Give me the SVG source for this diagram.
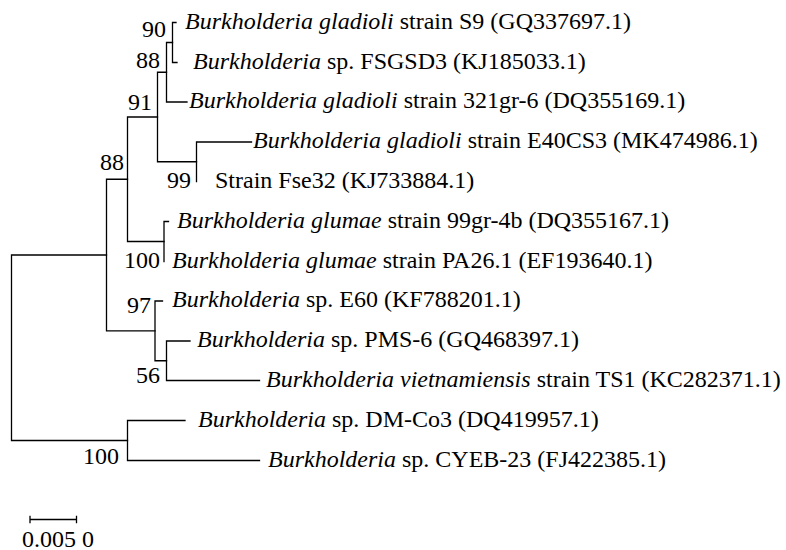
<svg xmlns="http://www.w3.org/2000/svg" width="786" height="550" viewBox="0 0 786 550">
<style>
.e{fill:none;stroke:#000;stroke-width:1.3;stroke-linecap:square}
.t{font-family:"Liberation Serif","Times New Roman",serif;font-size:24px;fill:#000}
.i{font-style:italic}
.b{font-family:"Liberation Serif","Times New Roman",serif;font-size:24px;fill:#000;text-anchor:end}
</style>
<rect width="786" height="550" fill="#fff"/>
<g id="connectors">
<path class="e" d="M172.5 22.5V62.5M172.5 22.5H176M172.5 62.5H177"/>
<path class="e" d="M166.5 42.5V102M166.5 42.5H172.5M166.5 102H187"/>
<path class="e" d="M196.5 142V181.5M196.5 142H251.5"/>
<path class="e" d="M157.5 72.25V161.75M157.5 72.25H166.5M157.5 161.75H196.5"/>
<path class="e" d="M164 221.5V261.5M164 221.5H168.5"/>
<path class="e" d="M127.5 117V241.5M127.5 117H157.5M127.5 241.5H164"/>
<path class="e" d="M166.5 341V380.5M166.5 341H190M166.5 380.5H259.5"/>
<path class="e" d="M155 301V360.75M155 301H162.5M155 360.75H166.5"/>
<path class="e" d="M106.5 179.25V330.9M106.5 179.25H127.5M106.5 330.9H155"/>
<path class="e" d="M127.5 420.5V460.5M127.5 420.5H185M127.5 460.5H259.5"/>
<path class="e" d="M11.5 255V440.5M11.5 255H106.5M11.5 440.5H127.5"/>
</g>
<g id="leaf-S9"><text class="t" x="185" y="28.5"><tspan class="i">Burkholderia gladioli</tspan> strain S9 (GQ337697.1)</text></g>
<g id="leaf-FSGSD3"><text class="t" x="193" y="68.5"><tspan class="i">Burkholderia</tspan> sp. FSGSD3 (KJ185033.1)</text></g>
<g id="leaf-321gr-6"><text class="t" x="189" y="108"><tspan class="i">Burkholderia gladioli</tspan> strain 321gr-6 (DQ355169.1)</text></g>
<g id="leaf-E40CS3"><text class="t" x="253" y="148"><tspan class="i">Burkholderia gladioli</tspan> strain E40CS3 (MK474986.1)</text></g>
<g id="leaf-Fse32"><text class="t" x="215" y="187.5">Strain Fse32 (KJ733884.1)</text></g>
<g id="leaf-99gr-4b"><text class="t" x="177" y="227.5"><tspan class="i">Burkholderia glumae</tspan> strain 99gr-4b (DQ355167.1)</text></g>
<g id="leaf-PA26.1"><text class="t" x="172" y="267.5"><tspan class="i">Burkholderia glumae</tspan> strain PA26.1 (EF193640.1)</text></g>
<g id="leaf-E60"><text class="t" x="172" y="307"><tspan class="i">Burkholderia</tspan> sp. E60 (KF788201.1)</text></g>
<g id="leaf-PMS-6"><text class="t" x="197" y="347"><tspan class="i">Burkholderia</tspan> sp. PMS-6 (GQ468397.1)</text></g>
<g id="leaf-TS1"><text class="t" x="266" y="386.5"><tspan class="i">Burkholderia vietnamiensis</tspan> strain TS1 (KC282371.1)</text></g>
<g id="leaf-DM-Co3"><text class="t" x="198" y="426.5"><tspan class="i">Burkholderia</tspan> sp. DM-Co3 (DQ419957.1)</text></g>
<g id="leaf-CYEB-23"><text class="t" x="268" y="466.5"><tspan class="i">Burkholderia</tspan> sp. CYEB-23 (FJ422385.1)</text></g>
<g id="node-A"><text class="b" x="166" y="37">90</text></g>
<g id="node-B"><text class="b" x="160" y="68">88</text></g>
<g id="node-C"><text class="b" x="152" y="110">91</text></g>
<g id="node-D"><text class="b" x="191" y="188">99</text></g>
<g id="node-E"><text class="b" x="124" y="170">88</text></g>
<g id="node-F"><text class="b" x="160" y="268">100</text></g>
<g id="node-G"><text class="b" x="151" y="313">97</text></g>
<g id="node-H"><text class="b" x="160" y="383">56</text></g>
<g id="node-I"><text class="b" x="119" y="463.5">100</text></g>
<g id="scale-bar">
<path class="e" d="M30 519.5H76.5M30 516.5V522.5M76.5 516.5V522.5"/>
<text class="t" x="22" y="546.5">0.005 0</text>
</g>
</svg>
